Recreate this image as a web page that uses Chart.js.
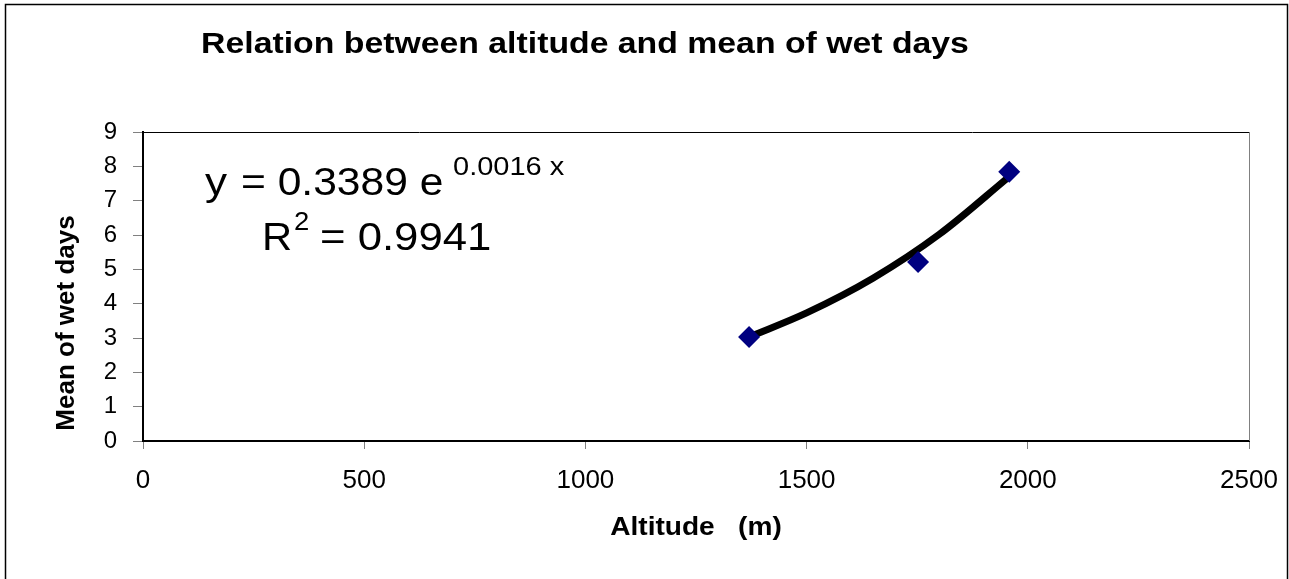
<!DOCTYPE html>
<html>
<head>
<meta charset="utf-8">
<script src="https://cdn.jsdelivr.net/npm/chart.js@4.4.1/dist/chart.umd.min.js"></script>
<style>
  html, body { margin: 0; padding: 0; background: #fff; }
  canvas { display: block; }
</style>
</head>
<body>
<canvas id="wet" width="1289" height="579"></canvas>
<script>
// measured stations
const altitudes = [1370, 1752, 1958]
const wetDays = [3.03, 5.21, 7.84]

// exponential trend line
const trendAltitudes = [1370, 1500, 1650, 1800, 1958]
const trendWetDays = [3.03, 3.73, 4.74, 6.02, 7.7]

const xTicks = [0, 500, 1000, 1500, 2000, 2500]
const yTicks = [0, 1, 2, 3, 4, 5, 6, 7, 8, 9]

const chartTitle = 'Relation between altitude and mean of wet days'
const xTitle = 'Altitude   (m)'
const yTitle = 'Mean of wet days'
const eqMain = 'y = 0.3389 e'
const eqExp = '0.0016 x'
const r2Main = '= 0.9941'

const FONT = '"Liberation Sans", Arial, sans-serif'

// text is a bit wider than normal Arial in the original (stretched chart)
function wideText(ctx, txt, x, y, font, sx, align) {
  ctx.save()
  ctx.font = font
  ctx.textAlign = align || 'left'
  ctx.translate(x, y)
  ctx.scale(sx, 1)
  ctx.fillText(txt, 0, 0)
  ctx.restore()
}

const extras = {
  id: 'extras',
  afterDraw(chart) {
    const ctx = chart.ctx
    const a = chart.chartArea
    ctx.save()

    // outer frame
    ctx.strokeStyle = '#000'
    ctx.lineWidth = 1.5
    ctx.strokeRect(5.5, 4.5, 1282, 580)

    // top and right edges of the plot box
    ctx.lineWidth = 1
    ctx.strokeStyle = '#000'
    ctx.beginPath()
    ctx.moveTo(a.left, a.top + 0.5)
    ctx.lineTo(a.right, a.top + 0.5)
    ctx.stroke()
    ctx.strokeStyle = '#808080'
    ctx.beginPath()
    ctx.moveTo(a.right + 0.5, a.top)
    ctx.lineTo(a.right + 0.5, a.bottom)
    ctx.stroke()

    ctx.fillStyle = '#000'
    ctx.textBaseline = 'alphabetic'

    wideText(ctx, chartTitle, 585, 53, 'bold 29px ' + FONT, 1.165, 'center')
    wideText(ctx, xTitle, (a.left + a.right) / 2, 535, 'bold 26px ' + FONT, 1.08, 'center')

    // y axis title
    ctx.save()
    ctx.font = 'bold 26px ' + FONT
    ctx.textAlign = 'center'
    ctx.translate(74, 323)
    ctx.rotate(-Math.PI / 2)
    ctx.fillText(yTitle, 0, 0)
    ctx.restore()

    // trend equation
    wideText(ctx, 'y', 205, 195, '38px ' + FONT, 1.16)
    wideText(ctx, eqMain.slice(2), 241, 195, '38px ' + FONT, 1.12)
    wideText(ctx, eqExp, 453, 175, '25px ' + FONT, 1.16)
    wideText(ctx, 'R', 262, 250, '38px ' + FONT, 1.1)
    wideText(ctx, '2', 294, 230, '25px ' + FONT, 1.1)
    wideText(ctx, r2Main, 320, 250, '38px ' + FONT, 1.15)

    ctx.restore()
  }
}

new Chart(document.getElementById('wet'), {
  type: 'scatter',
  data: {
    datasets: [{
      label: 'Trend',
      data: trendAltitudes.map((x, i) => ({ x: x, y: trendWetDays[i] })),
      showLine: true,
      borderColor: '#000',
      borderWidth: 7,
      borderCapStyle: 'round',
      cubicInterpolationMode: 'monotone',
      pointRadius: 0,
      order: 2
    }, {
      label: 'Mean of wet days',
      data: altitudes.map((x, i) => ({ x: x, y: wetDays[i] })),
      pointStyle: 'rectRot',
      pointRadius: 11,
      pointBackgroundColor: '#000080',
      pointBorderColor: '#000080',
      pointBorderWidth: 0,
      order: 1
    }]
  },
  options: {
    responsive: false,
    animation: false,
    layout: { padding: { left: 0, right: 40, top: 132, bottom: 0 } },
    plugins: {
      legend: { display: false },
      title: { display: false },
      tooltip: { enabled: false }
    },
    scales: {
      x: {
        type: 'linear',
        min: 0,
        max: 2500,
        afterBuildTicks: (s) => { s.ticks = xTicks.map(v => ({ value: v })) },
        afterFit: (s) => { s.height = 138; s.paddingLeft = 0; s.paddingRight = 0 },
        grid: { drawOnChartArea: false, tickLength: 8, color: '#808080', tickColor: '#808080' },
        border: { display: true, color: '#000', width: 2 },
        ticks: {
          color: '#000', font: { family: FONT, size: 26 }, padding: 16, maxRotation: 0,
          callback: (v) => String(v)
        }
      },
      y: {
        type: 'linear',
        min: 0,
        max: 9,
        afterBuildTicks: (s) => { s.ticks = yTicks.map(v => ({ value: v })) },
        afterFit: (s) => { s.width = 143; s.paddingTop = 0; s.paddingBottom = 0 },
        grid: { drawOnChartArea: false, tickLength: 10, color: '#808080', tickColor: '#808080' },
        border: { display: true, color: '#000', width: 2 },
        ticks: {
          color: '#000', font: { family: FONT, size: 24 }, padding: 16,
          callback: (v) => String(v)
        }
      }
    }
  },
  plugins: [extras]
});
</script>
</body>
</html>
